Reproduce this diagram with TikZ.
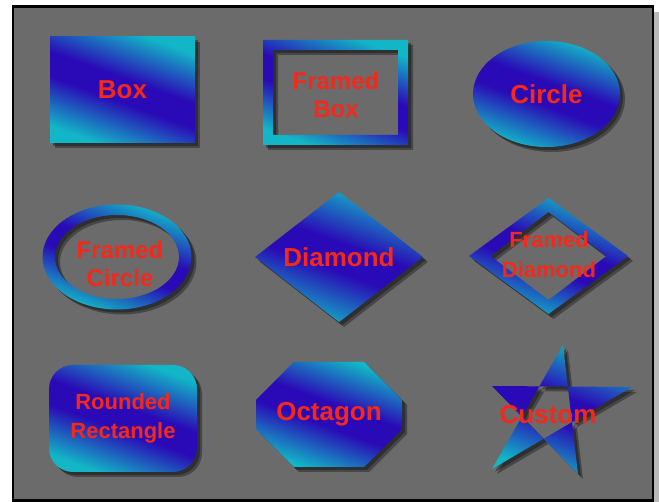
\documentclass[tikz,border=0pt]{standalone}
\usepackage{fontspec}
\setmainfont{Liberation Sans}
\usetikzlibrary{shapes.geometric,shapes.misc}

\definecolor{panelgray}{RGB}{107,107,107}
\definecolor{deepblue}{RGB}{42,10,182}
\definecolor{aqua}{RGB}{18,182,198}
\definecolor{labelred}{RGB}{246,40,26}

\pgfdeclareverticalshading{aquablue}{100bp}{color(0bp)=(aqua); color(25bp)=(aqua); color(45bp)=(deepblue); color(55bp)=(deepblue); color(75bp)=(aqua); color(100bp)=(aqua)}

\begin{document}
\begin{tikzpicture}[x=1pt, y=-1pt,
  glossy/.style={shading=aquablue, shading angle=-20, draw=none},
  softshadow/.style={
    preaction={fill=black, fill opacity=.33, even odd rule, transform canvas={xshift=3pt, yshift=-3pt}},
    preaction={fill=black, fill opacity=.33, even odd rule, transform canvas={xshift=5pt, yshift=-5pt}}},
  solid/.style={glossy, softshadow, inner sep=0pt, align=center, text=labelred, font=\fontsize{26}{28}\selectfont\bfseries},
  lbl/.style={text=labelred, align=center, font=\fontsize{24}{28}\selectfont\bfseries}]

\useasboundingbox (0,0) rectangle (659,502);

% --- panel ---
\fill[gray!55] (654,12) rectangle (659,502);
\draw[line width=2.5pt, fill=panelgray] (12.75,6.75) rectangle (652.75,500.75);

% --- first row ---
\node[solid, rectangle, minimum width=145pt, minimum height=106pt] (box) at (122.5,90) {Box};
\path[glossy, softshadow, even odd rule] (263,40) rectangle (408,145) (273,50) rectangle (398,135);
\node[lbl] (framedbox) at (336,95) {Framed\\Box};
\node[solid, ellipse, minimum width=147pt, minimum height=106pt] (circle) at (546.5,94) {Circle};

% --- second row ---
\path[glossy, softshadow, even odd rule] (117,257) ellipse [x radius=74.5, y radius=52.5]
  (117,257) ellipse [x radius=62, y radius=42];
\node[lbl] (framedcircle) at (120,264) {Framed\\Circle};
\node[solid, diamond, minimum width=168pt, minimum height=120pt] (diamond) at (339,257) {Diamond};
\path[glossy, softshadow, even odd rule] (469,256) -- (548.5,198) -- (628,256) -- (548.5,314) -- cycle
  (490.5,256) -- (548.5,212) -- (606.5,256) -- (548.5,300) -- cycle;
\node[lbl, font=\fontsize{22}{30}\selectfont\bfseries] (frameddiamond) at (549,255) {Framed\\Diamond};

% --- third row ---
\node[solid, rectangle, rounded corners=24pt, minimum width=148pt, minimum height=107pt,
  font=\fontsize{22}{29}\selectfont\bfseries] (rrect) at (123,418.5) {Rounded\\Rectangle};
\node[solid, chamfered rectangle, chamfered rectangle xsep=27pt, chamfered rectangle ysep=26pt,
  minimum width=146pt, minimum height=105pt] (octagon) at (329,414.5) {Octagon};
\path[glossy, softshadow, even odd rule] (563,345) -- (492,469) -- (632,387) -- (492,386) -- (578,474) -- cycle;
\node[lbl, font=\fontsize{26}{28}\selectfont\bfseries] (custom) at (548,415) {Custom};
\end{tikzpicture}
\end{document}
